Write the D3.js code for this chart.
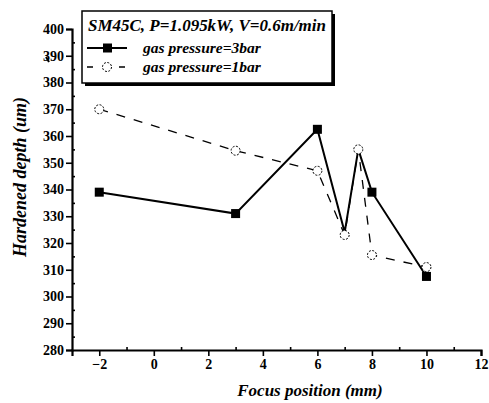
<!DOCTYPE html>
<html><head><meta charset="utf-8">
<script src="https://cdn.jsdelivr.net/npm/d3@7/dist/d3.min.js"></script>
<style>body{margin:0;background:#fff}svg{display:block}</style>
</head><body>
<script>
const xs3 = [-2, 3, 6, 7, 7.5, 8, 10];
const ys3 = [339, 331, 362.5, 324, 355, 339, 307.5];
const xs1 = [-2, 3, 6, 7, 7.5, 8, 10];
const ys1 = [370, 354.5, 347, 323, 355, 315.5, 311];
const xTicks = [-2, 0, 2, 4, 6, 8, 10, 12];
const yTicks = [280,290,300,310,320,330,340,350,360,370,380,390,400];
const legendTitle = "SM45C, P=1.095kW, V=0.6m/min";
const seriesNames = ["gas pressure=3bar", "gas pressure=1bar"];

const W = 489, H = 403;
const svg = d3.select("body").append("svg").attr("width", W).attr("height", H);
const font = "'Liberation Serif','DejaVu Serif',serif";
const x = d3.scaleLinear().domain([-3, 12]).range([72, 481]);
const y = d3.scaleLinear().domain([280, 400]).range([350, 29]);

// axes
const yAx = svg.append("g").attr("transform", "translate(72,0)")
  .call(d3.axisLeft(y).tickValues(yTicks).tickSize(6).tickPadding(2).tickFormat(d3.format("d")));
const yMinor = svg.append("g").attr("transform", "translate(72,0)")
  .call(d3.axisRight(y).tickValues(d3.range(285, 400, 10)).tickSize(3).tickFormat(""));
const xAx = svg.append("g").attr("transform", "translate(0,350)")
  .call(d3.axisBottom(x).tickValues(xTicks).tickSize(6).tickPadding(3).tickFormat(d3.format("d")));
const xMinor = svg.append("g").attr("transform", "translate(0,350)")
  .call(d3.axisTop(x).tickValues(d3.range(-1, 12, 2)).tickSize(3).tickFormat(""));
[yAx, yMinor, xAx, xMinor].forEach(g => {
  g.select(".domain").attr("stroke", "#000").attr("stroke-width", 2.2);
  g.selectAll(".tick line").attr("stroke", "#000").attr("stroke-width", 1.6);
  g.selectAll("text").attr("font-family", font).attr("font-weight", "bold")
    .attr("font-size", 14).attr("fill", "#000");
});
yMinor.select(".domain").remove();
xMinor.select(".domain").remove();

// axis titles
svg.append("text").attr("transform", "translate(26,177) rotate(-90)")
  .attr("text-anchor", "middle").attr("font-family", font).attr("font-style", "italic")
  .attr("font-weight", "bold").attr("font-size", 18).text("Hardened depth (um)");
svg.append("text").attr("x", 310).attr("y", 396)
  .attr("text-anchor", "middle").attr("font-family", font).attr("font-style", "italic")
  .attr("font-weight", "bold").attr("font-size", 17).text("Focus position (mm)");

// scan mark
svg.append("line").attr("x1", 46).attr("y1", 57).attr("x2", 49).attr("y2", 62)
  .attr("stroke", "#000").attr("stroke-width", 2);

// series
const d3bar = xs3.map((v, i) => [v, ys3[i]]);
const d1bar = xs1.map((v, i) => [v, ys1[i]]);
const line = d3.line().x(d => x(d[0])).y(d => y(d[1]));

svg.append("path").datum(d1bar).attr("d", line).attr("fill", "none")
  .attr("stroke", "#000").attr("stroke-width", 1.3).attr("stroke-dasharray", "9,9");
svg.append("path").datum(d3bar).attr("d", line).attr("fill", "none")
  .attr("stroke", "#000").attr("stroke-width", 2);

svg.selectAll(".c1").data(d1bar).enter().append("circle")
  .attr("cx", d => x(d[0])).attr("cy", d => y(d[1])).attr("r", 4.5)
  .attr("fill", "#fff").attr("stroke", "#000").attr("stroke-width", 1).attr("stroke-dasharray", "2,1.5");
svg.selectAll(".s3").data(d3bar.filter(d => d[0] !== 7 && d[0] !== 7.5)).enter().append("rect")
  .attr("x", d => x(d[0]) - 4.5).attr("y", d => y(d[1]) - 4.5)
  .attr("width", 9).attr("height", 9).attr("fill", "#000");

// legend
const lx = 82, ly = 11, lw = 250, lh = 72;
svg.append("rect").attr("x", lx + 3).attr("y", ly + 3).attr("width", lw).attr("height", lh).attr("fill", "#000");
svg.append("rect").attr("x", lx).attr("y", ly).attr("width", lw).attr("height", lh)
  .attr("fill", "#fff").attr("stroke", "#000").attr("stroke-width", 1.5);
svg.append("text").attr("x", lx + 6).attr("y", ly + 20).attr("font-family", font)
  .attr("font-style", "italic").attr("font-weight", "bold").attr("font-size", 16)
  .attr("textLength", 238).attr("lengthAdjust", "spacingAndGlyphs").text(legendTitle);
[0, 1].forEach(i => {
  const yy = ly + 37 + i * 19;
  svg.append("line").attr("x1", lx + 5).attr("x2", lx + 45).attr("y1", yy).attr("y2", yy)
    .attr("stroke", "#000").attr("stroke-width", i === 0 ? 2 : 1.3)
    .attr("stroke-dasharray", i === 0 ? null : "6,10");
  if (i === 0) {
    svg.append("rect").attr("x", lx + 21).attr("y", yy - 4.5).attr("width", 9).attr("height", 9).attr("fill", "#000");
  } else {
    svg.append("circle").attr("cx", lx + 25).attr("cy", yy).attr("r", 4.5).attr("fill", "#fff")
      .attr("stroke", "#000").attr("stroke-width", 1).attr("stroke-dasharray", "2,1.5");
  }
  svg.append("text").attr("x", lx + 61).attr("y", yy + 5).attr("font-family", font)
    .attr("font-style", "italic").attr("font-weight", "bold").attr("font-size", 15.5).text(seriesNames[i]);
});
</script>
</body></html>
